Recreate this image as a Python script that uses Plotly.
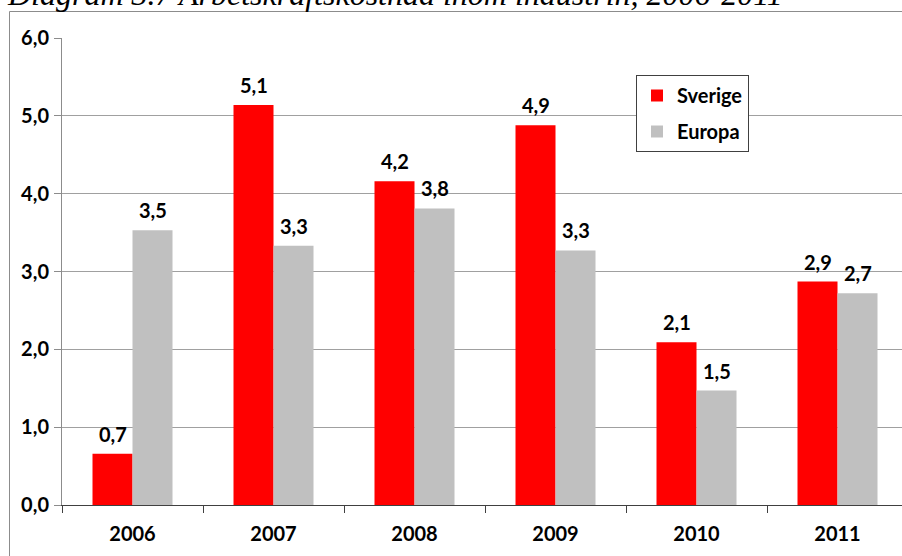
import plotly.graph_objects as go

# Labour cost growth in manufacturing, per cent per year
years = ["2006", "2007", "2008", "2009", "2010", "2011"]
sverige = [0.66, 5.14, 4.16, 4.88, 2.09, 2.87]
europa = [3.53, 3.33, 3.81, 3.27, 1.47, 2.72]
y_ticks = [0, 1, 2, 3, 4, 5, 6]

FONT = "Lato"
TXT = dict(family=FONT, size=20, color="#000000", weight="bold")
W, H = 902, 556
L, R, T, B = 62, 0, 38, 51
plot_w = W - L - R
plot_h = H - T - B
cat_px = 141  # width of one category band in pixels
bar_px = 40   # width of one bar in pixels

fig = go.Figure()
fig.add_trace(go.Bar(
    x=years, y=sverige, name="Sverige", marker_color="#FF0000",
    marker_line_width=0, legendgroup="a",
))
fig.add_trace(go.Bar(
    x=years, y=europa, name="Europa", marker_color="#C0C0C0",
    marker_line_width=0, legendgroup="b",
))

# Value labels above each bar (category index on the x axis)
for vals, shift in ((sverige, -bar_px / 2), (europa, bar_px / 2)):
    for i, v in enumerate(vals):
        fig.add_annotation(
            x=i, y=v, xref="x", yref="y",
            text=f"{v:.1f}".replace(".", ","),
            xshift=shift, yshift=6, xanchor="center", yanchor="bottom",
            showarrow=False, font=TXT,
        )

fig.update_layout(
    width=W, height=H,
    margin=dict(l=L, r=R, t=T, b=B, pad=0),
    paper_bgcolor="white", plot_bgcolor="white",
    separators=", ",
    barmode="group", bargap=(cat_px - 2 * bar_px) / cat_px, bargroupgap=0,
    font=dict(family=FONT, size=20, color="#000000"),
    showlegend=True,
    legend=dict(
        x=(636 - L) / plot_w, y=(H - B - 75) / plot_h,
        xanchor="left", yanchor="top",
        bgcolor="white", bordercolor="#404040", borderwidth=1,
        font=TXT,
        traceorder="grouped", tracegroupgap=7,
        itemclick=False,
    ),
    xaxis=dict(
        type="category",
        range=[-0.5, -0.5 + plot_w / cat_px],
        showline=True, linecolor="#404040", linewidth=1,
        ticks="outside", ticklen=7, tickcolor="#404040", tickson="boundaries",
        showgrid=False,
        tickfont=TXT, ticklabelstandoff=11,
    ),
    yaxis=dict(
        range=[0, 6], tickvals=y_ticks, tickformat=".1f",
        showline=True, linecolor="#8C8C8C", linewidth=1,
        ticks="outside", ticklen=7, tickcolor="#8C8C8C",
        showgrid=True, gridcolor="#A0A0A0", gridwidth=1,
        zeroline=False,
        tickfont=TXT, ticklabelstandoff=1,
    ),
)

# Outer chart frame
fig.add_shape(
    type="rect", xref="paper", yref="paper",
    x0=(9.5 - L) / plot_w, x1=(W + 20 - L) / plot_w,
    y0=-(B + 20) / plot_h, y1=(H - B - 11.5) / plot_h,
    line=dict(color="#8C8C8C", width=1), fillcolor="rgba(0,0,0,0)",
    layer="below",
)

# Figure heading
fig.add_annotation(
    text="Diagram 3.7 Arbetskraftskostnad inom industrin, 2006-2011",
    xref="paper", yref="paper",
    x=(5 - L) / plot_w, y=(H - B - 14) / plot_h,
    xanchor="left", yanchor="bottom", showarrow=False,
    font=dict(family="Liberation Serif", size=32, color="#000000", style="italic"),
)

fig.write_html("out.html")
